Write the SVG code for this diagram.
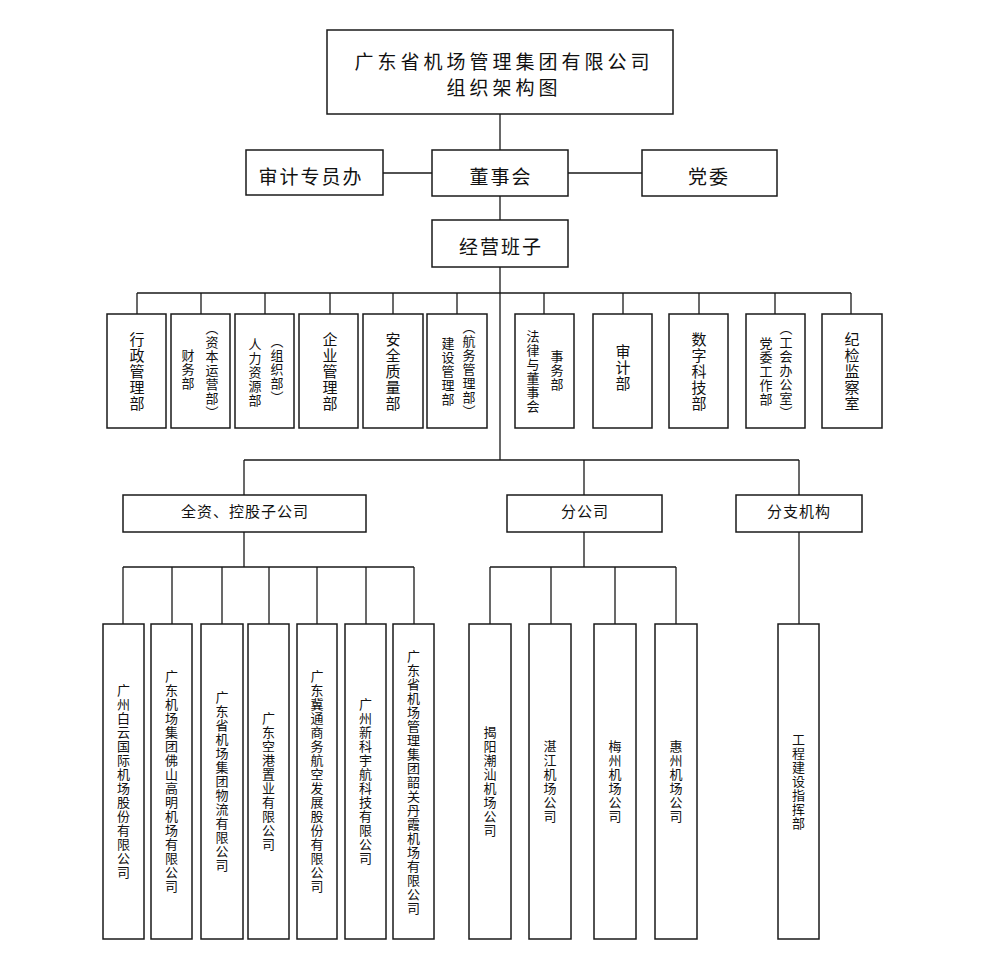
<svg xmlns="http://www.w3.org/2000/svg" width="1000" height="970" viewBox="0 0 1000 970">
<style>
.b{fill:#fff;stroke:#1a1a1a;stroke-width:1.5}
.c{fill:none;stroke:#1a1a1a;stroke-width:1.3}
text{font-family:"Noto Sans CJK SC","Noto Sans",sans-serif;fill:#111}
.h{text-anchor:middle;dominant-baseline:central}
.v{writing-mode:vertical-rl;text-anchor:middle;font-size:13px;letter-spacing:1px}
.d{writing-mode:vertical-rl;text-anchor:middle;font-size:15px;letter-spacing:1px}
</style>
<rect width="1000" height="970" fill="#fff"/>
<g id="connectors" class="c">
<path d="M500 114V150M383 173H432M568 173H642M500 196V220M500 267V460"/>
<path d="M137 293H851M137 293V314M201 293V314M265 293V314M330 293V314M393 293V314M457 293V314M544 293V314M623 293V314M699 293V314M775 293V314M851 293V314"/>
<path d="M244 460H799M244 460V495M584 460V495M799 460V495"/>
<path d="M244 532V567M123 567H414M123 567V624M172 567V624M222 567V624M269 567V624M317 567V624M366 567V624M414 567V624"/>
<path d="M584 532V567M490 567H676M490 567V624M551 567V624M615 567V624M676 567V624"/>
<path d="M799 532V624"/>
</g>
<g id="title"><rect class="b" x="327" y="30" width="346" height="84"/>
<text class="h" x="504" y="60" font-size="19" letter-spacing="4">广东省机场管理集团有限公司</text>
<text class="h" x="504" y="86" font-size="19" letter-spacing="4">组织架构图</text></g>
<g id="shenji-zhuanyuan"><rect class="b" x="246" y="150" width="137" height="45"/><text class="h" x="311" y="175" font-size="19" letter-spacing="2">审计专员办</text></g>
<g id="dongshihui"><rect class="b" x="432" y="150" width="136" height="46"/><text class="h" x="501" y="175" font-size="19" letter-spacing="2">董事会</text></g>
<g id="dangwei"><rect class="b" x="642" y="150" width="135" height="46"/><text class="h" x="709" y="175" font-size="19" letter-spacing="2">党委</text></g>
<g id="jingying"><rect class="b" x="432" y="220" width="136" height="47"/><text class="h" x="501" y="245" font-size="19" letter-spacing="2">经营班子</text></g>

<g id="d1"><rect class="b" x="107" y="314" width="59" height="114"/><text class="d" x="137" y="372">行政管理部</text></g>
<g id="d2"><rect class="b" x="171" y="314" width="59" height="114"/><text class="v" x="188" y="370">财务部</text><text class="v" x="212" y="371">（资本运营部）</text></g>
<g id="d3"><rect class="b" x="235" y="314" width="59" height="114"/><text class="v" x="255" y="373">人力资源部</text><text class="v" x="277" y="370">（组织部）</text></g>
<g id="d4"><rect class="b" x="299" y="314" width="59" height="114"/><text class="d" x="330" y="372">企业管理部</text></g>
<g id="d5"><rect class="b" x="363" y="314" width="60" height="114"/><text class="d" x="393" y="372">安全质量部</text></g>
<g id="d6"><rect class="b" x="427" y="314" width="60" height="114"/><text class="v" x="448" y="372">建设管理部</text><text class="v" x="469" y="370">（航务管理部）</text></g>
<g id="d7"><rect class="b" x="515" y="314" width="59" height="114"/><text class="v" x="533" y="372" letter-spacing="1.7">法律与董事会</text><text class="v" x="557" y="371">事务部</text></g>
<g id="d8"><rect class="b" x="593" y="314" width="59" height="114"/><text class="d" x="623" y="368" letter-spacing="2.5">审计部</text></g>
<g id="d9"><rect class="b" x="669" y="314" width="59" height="114"/><text class="d" x="699" y="372">数字科技部</text></g>
<g id="d10"><rect class="b" x="746" y="314" width="59" height="114"/><text class="v" x="766" y="372" letter-spacing="1.6">党委工作部</text><text class="v" x="786" y="371">（工会办公室）</text></g>
<g id="d11"><rect class="b" x="822" y="314" width="60" height="114"/><text class="d" x="852" y="372">纪检监察室</text></g>

<g id="quanzi"><rect class="b" x="123" y="495" width="243" height="37"/><text class="h" x="245" y="510" font-size="15" letter-spacing="1">全资、控股子公司</text></g>
<g id="fengongsi"><rect class="b" x="507" y="495" width="155" height="37"/><text class="h" x="585" y="510" font-size="15" letter-spacing="1">分公司</text></g>
<g id="fenzhi"><rect class="b" x="736" y="495" width="126" height="37"/><text class="h" x="799" y="510" font-size="15" letter-spacing="1">分支机构</text></g>

<g id="s1"><rect class="b" x="103" y="624" width="41" height="315"/><text class="v" x="123.5" y="782" letter-spacing="2">广州白云国际机场股份有限公司</text></g>
<g id="s2"><rect class="b" x="151" y="624" width="41" height="315"/><text class="v" x="171.5" y="782" letter-spacing="2">广东机场集团佛山高明机场有限公司</text></g>
<g id="s3"><rect class="b" x="201" y="624" width="42" height="315"/><text class="v" x="222" y="782">广东省机场集团物流有限公司</text></g>
<g id="s4"><rect class="b" x="248" y="624" width="41" height="315"/><text class="v" x="268.5" y="782">广东空港置业有限公司</text></g>
<g id="s5"><rect class="b" x="297" y="624" width="40" height="315"/><text class="v" x="317" y="782" letter-spacing="2">广东冀通商务航空发展股份有限公司</text></g>
<g id="s6"><rect class="b" x="345" y="624" width="41" height="315"/><text class="v" x="365.5" y="782">广州新科宇航科技有限公司</text></g>
<g id="s7"><rect class="b" x="393" y="624" width="41" height="315"/><text class="v" x="413.5" y="783">广东省机场管理集团韶关丹霞机场有限公司</text></g>

<g id="f1"><rect class="b" x="469" y="624" width="42" height="315"/><text class="v" x="490" y="782">揭阳潮汕机场公司</text></g>
<g id="f2"><rect class="b" x="529" y="624" width="42" height="315"/><text class="v" x="550" y="782">湛江机场公司</text></g>
<g id="f3"><rect class="b" x="594" y="624" width="42" height="315"/><text class="v" x="615" y="782">梅州机场公司</text></g>
<g id="f4"><rect class="b" x="655" y="624" width="42" height="315"/><text class="v" x="676" y="782">惠州机场公司</text></g>
<g id="z1"><rect class="b" x="778" y="624" width="41" height="315"/><text class="v" x="798.5" y="782">工程建设指挥部</text></g>
</svg>
